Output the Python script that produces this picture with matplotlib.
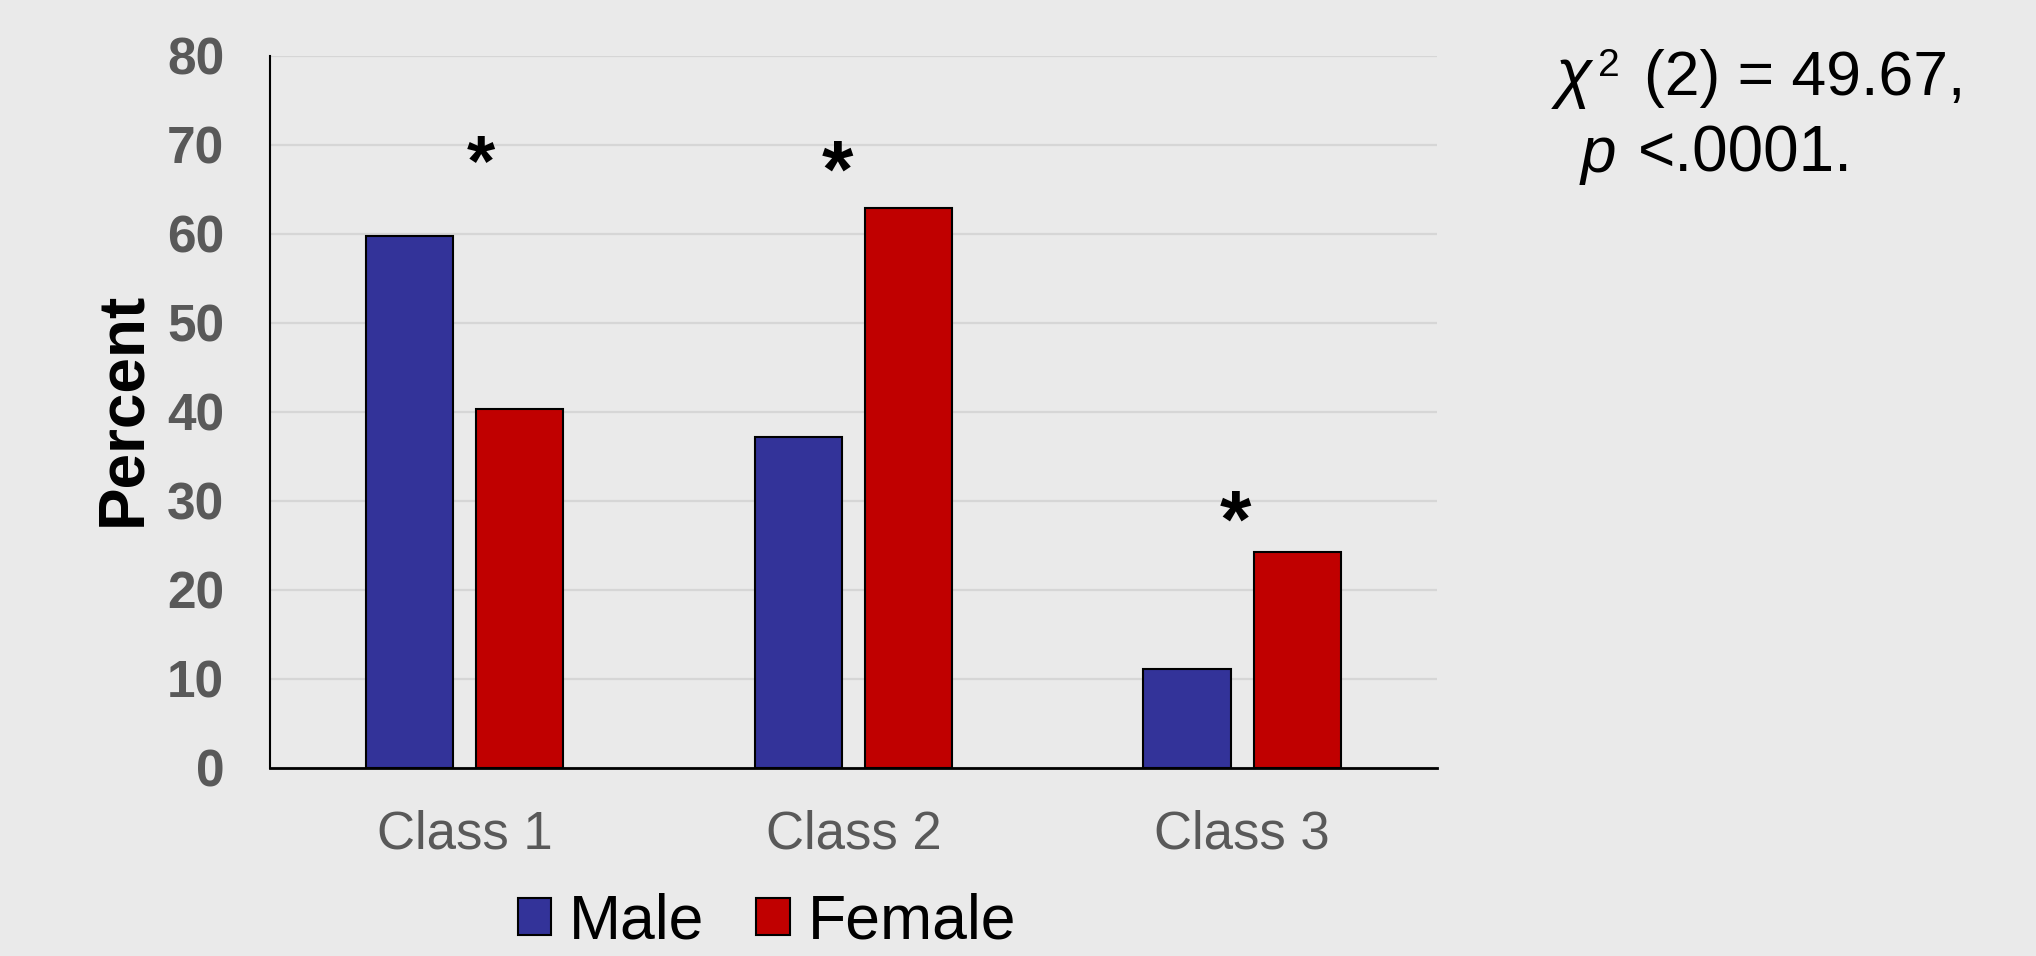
import matplotlib
matplotlib.use("Agg")
import matplotlib.pyplot as plt
from matplotlib.patches import Patch
import numpy as np

plt.rcParams['font.family'] = ['Liberation Sans', 'DejaVu Sans']

# ---- data ----
categories = ["Class 1", "Class 2", "Class 3"]
series_names = ["Male", "Female"]
male_values = [59.7, 37.1, 11.1]
female_values = [40.3, 62.9, 24.2]
y_ticks = [0, 10, 20, 30, 40, 50, 60, 70, 80]
star_x = [0.042, 0.959, 1.982]
star_y = [67.6, 66.5, 27.2]
star_size = [52, 58, 58]

BG = "#EAEAEA"
MALE_C = "#333399"
FEMALE_C = "#C00000"
TICK_C = "#595959"

W, H = 2036, 956
fig = plt.figure(figsize=(W / 100, H / 100), dpi=100, facecolor=BG)
ax = fig.add_axes([270 / W, 1 - 767.5 / H, (1436.7 - 270) / W, (767.5 - 55.8) / H])
ax.set_facecolor(BG)

x = np.arange(len(categories))
bw = 0.224
off = 0.142
ax.bar(x - off, male_values, width=bw, color=MALE_C, edgecolor="black", linewidth=1.5, zorder=3)
ax.bar(x + off, female_values, width=bw, color=FEMALE_C, edgecolor="black", linewidth=1.5, zorder=3)

ax.set_xlim(-0.5, len(categories) - 0.5)
ax.set_ylim(0, 80)
ax.set_yticks(y_ticks)
ax.set_yticklabels([str(v) for v in y_ticks], fontsize=37, fontweight="bold", color=TICK_C)
ax.set_xticks(x)
ax.set_xticklabels(categories, fontsize=38, color=TICK_C)
ax.tick_params(axis="y", length=0, pad=33)
ax.tick_params(axis="x", length=0, pad=30)

ax.grid(axis="y", color="#D6D6D6", linewidth=1.6, zorder=0)
ax.set_axisbelow(True)
for s in ["top", "right"]:
    ax.spines[s].set_visible(False)
ax.spines["left"].set_linewidth(1.5)
ax.spines["bottom"].set_linewidth(2.0)
ax.spines["left"].set_color("black")
ax.spines["bottom"].set_color("black")

ax.set_ylabel("Percent", fontsize=46, fontweight="bold", color="black", va="center")
ax.yaxis.set_label_coords((123 - 270) / (1436.7 - 270), 0.504)

for sx, sy, ss in zip(star_x, star_y, star_size):
    ax.text(sx, sy, "*", ha="center", va="center", fontsize=ss, fontweight="bold", color="black", zorder=4)

# legend
handles = [Patch(facecolor=MALE_C, edgecolor="black", linewidth=1.5),
           Patch(facecolor=FEMALE_C, edgecolor="black", linewidth=1.5)]
fig.legend(handles, series_names, loc="center", bbox_to_anchor=(767 / W, 1 - 922 / H),
           ncol=2, frameon=False, fontsize=45, handlelength=0.53, handleheight=0.54,
           handletextpad=0.29, columnspacing=0.83, borderaxespad=0, borderpad=0)

# statistic annotation
def ftx(px, py):
    return px / W, 1 - py / H

fig.text(*ftx(1556, 95), "χ", fontsize=48, fontstyle="italic", ha="left", va="baseline")
fig.text(*ftx(1598, 76), "2", fontsize=28, ha="left", va="baseline")
fig.text(*ftx(1644, 95), "(2) = 49.67,", fontsize=45, ha="left", va="baseline")
fig.text(*ftx(1581, 171.7), "p", fontsize=46, fontstyle="italic", ha="left", va="baseline")
fig.text(*ftx(1638, 171.7), "<.0001.", fontsize=46, ha="left", va="baseline")

fig.savefig("out.png", dpi=100, facecolor=BG)
